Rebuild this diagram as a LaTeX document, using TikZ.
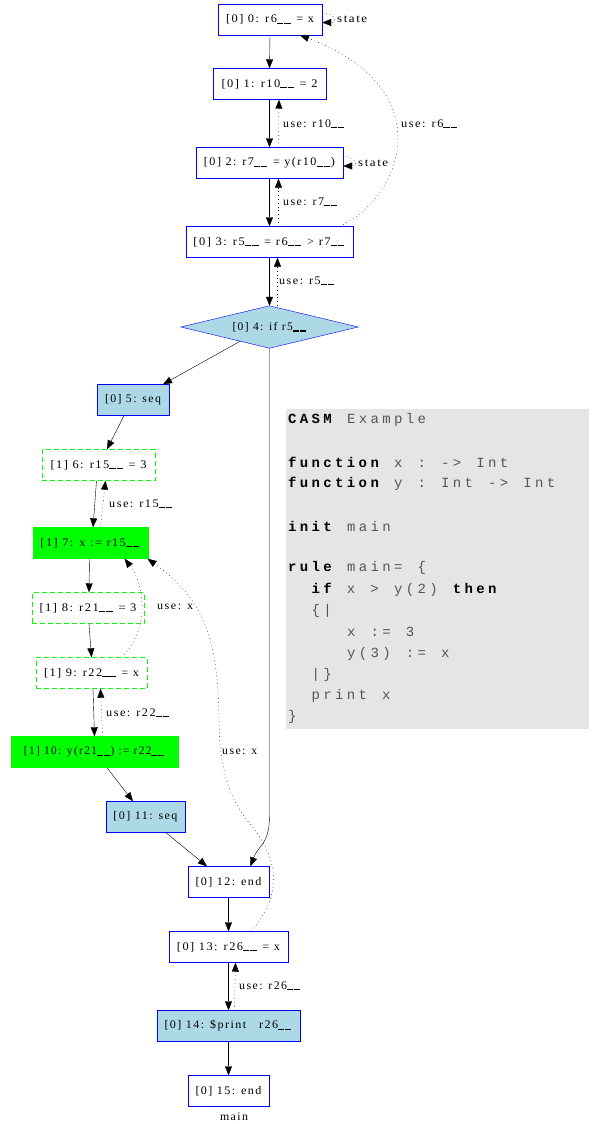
\documentclass[tikz,border=0pt]{standalone}
\usepackage{fontspec}
\usepackage{graphicx}
\setmainfont{Liberation Serif}[LetterSpace=12]
\newfontfamily\codefont{Liberation Mono}[LetterSpace=24]
\usetikzlibrary{arrows.meta,calc}
\definecolor{gvblue}{HTML}{0000FF}
\definecolor{gvlightblue}{HTML}{ADD8E6}
\definecolor{gvgreen}{HTML}{00FF00}
\definecolor{codebg}{HTML}{E5E5E5}
\definecolor{codegray}{HTML}{555555}
\newcommand{\us}{\rule[-1.2pt]{6pt}{1.3pt}\hspace{0.8pt}\rule[-1.2pt]{6pt}{1.3pt}\hspace{1pt}}
\newcommand{\csp}{\hspace*{15.12pt}}
\newcommand{\kw}[1]{{\bfseries\color{black}#1}}
\newcommand{\fitw}[2]{\resizebox{#1pt}{\height}{#2}}
\begin{document}
\begin{tikzpicture}[x=1pt,y=-1pt,
  box/.style={draw=gvblue, rectangle, minimum height=31pt, inner sep=0pt, font=\fontsize{11.6}{13}\selectfont},
  seqbox/.style={box, fill=gvlightblue},
  updbox/.style={box, draw=gvgreen, fill=gvgreen},
  dbox/.style={box, draw=gvgreen, dash pattern=on 5pt off 3pt},
  flow/.style={draw=black, -{Triangle[length=9pt,width=7pt]}},
  use/.style={draw=black, dash pattern=on 0.8pt off 3pt, -{Triangle[length=9pt,width=7pt]}},
  lbl/.style={anchor=west, inner sep=0pt, font=\fontsize{11.6}{13}\selectfont},
  codeline/.style={anchor=west, inner sep=0pt, font=\codefont\fontsize{14}{16}\selectfont, text=codegray}
]
\useasboundingbox (0,0) rectangle (594,1124);

% code panel
\fill[codebg] (286,409) rectangle (589,729);
\node[codeline] (c1) at (288,420) {\kw{CASM}\csp Example};
\node[codeline] (c2) at (288,462) {\kw{function}\csp x\csp :\csp ->\csp Int};
\node[codeline] (c3) at (288,484) {\kw{function}\csp y\csp :\csp Int\csp ->\csp Int};
\node[codeline] (c4) at (288,526) {\kw{init}\csp main};
\node[codeline] (c5) at (288,568) {\kw{rule}\csp main=\csp \{};
\node[codeline] (c6) at (311.5,590) {\kw{if}\csp x\csp >\csp y(2)\csp \kw{then}};
\node[codeline] (c7) at (311.5,611) {\{|};
\node[codeline] (c8) at (346.8,632) {x\csp :=\csp 3};
\node[codeline] (c9) at (346.8,654) {y(3)\csp :=\csp x};
\node[codeline] (c10) at (311.5,675) {|\}};
\node[codeline] (c11) at (311.5,696) {print\csp x};
\node[codeline] (c12) at (288,717) {\}};

% nodes
\node[box, minimum width=104pt] (n0) at (270,19.5) {\fitw{88}{[0] 0: r6\us{} = x}};
\node[box, minimum width=113pt] (n1) at (269.5,84) {\fitw{96}{[0] 1: r10\us{} = 2}};
\node[box, minimum width=147pt] (n2) at (269.5,163) {\fitw{131}{[0] 2: r7\us{} = y(r10\us)}};
\node[box, minimum width=167pt] (n3) at (269.5,242) {\fitw{152}{[0] 3: r5\us{} = r6\us{} > r7\us}};
\node[inner sep=0pt, minimum width=177pt, minimum height=42pt] (n4) at (269.5,327) {};
\filldraw[draw=gvblue, fill=gvlightblue] (n4.north) -- (n4.east) -- (n4.south) -- (n4.west) -- cycle;
\node[inner sep=0pt, font=\fontsize{11.6}{13}\selectfont] (n4t) at (n4.center) {\fitw{74}{[0] 4: if r5\us}};
\node[seqbox, minimum width=72pt] (n5) at (133,400) {\fitw{56}{[0] 5: seq}};
\node[dbox, minimum width=113pt] (n6) at (98.5,465) {\fitw{96}{[1] 6: r15\us{} = 3}};
\node[updbox, minimum width=115pt] (n7) at (90.5,543) {\fitw{100}{[1] 7: x := r15\us}};
\node[dbox, minimum width=112pt] (n8) at (88,608) {\fitw{97}{[1] 8: r21\us{} = 3}};
\node[dbox, minimum width=111pt] (n9) at (91.5,673) {\fitw{95}{[1] 9: r22\us{} = x}};
\node[updbox, minimum width=167pt] (n10) at (94.5,752) {\fitw{141}{[1] 10: y(r21\us) := r22\us}};
\node[seqbox, minimum width=79pt] (n11) at (145.5,817) {\fitw{64}{[0] 11: seq}};
\node[box, minimum width=81pt] (n12) at (228.5,882) {\fitw{66}{[0] 12: end}};
\node[box, minimum width=119pt] (n13) at (228.5,947) {\fitw{103}{[0] 13: r26\us{} = x}};
\node[seqbox, minimum width=143pt] (n14) at (228.5,1026) {\fitw{128}{[0] 14: \$print\hspace{8pt} r26\us}};
\node[box, minimum width=81pt] (n15) at (228.5,1091) {\fitw{66}{[0] 15: end}};
\node[inner sep=0pt, font=\fontsize{11.6}{13}\selectfont] (mainlbl) at (234,1117) {\fitw{28}{main}};

% control flow
\draw[flow] (n0.south) -- (n1.north);
\draw[flow] (n1.south) -- (n2.north);
\draw[flow] (n2.south) -- (n3.north);
\draw[flow] (n3.south) -- (n4.north);
\draw[flow] ($(n4.west)!0.67!(n4.south)$) -- ([xshift=30pt]n5.north);
\draw[flow] (n4.south) -- ++(0,467) .. controls +(0,30) and +(8,-22) .. ([xshift=22pt]n12.north);
\draw[flow] ([xshift=-9pt]n5.south) -- ([xshift=8.5pt]n6.north);
\draw[flow] ([xshift=-2pt]n6.south) -- ([xshift=2.5pt]n7.north);
\draw[flow] ([xshift=-1pt]n7.south) -- ([xshift=1pt]n8.north);
\draw[flow] ([xshift=1pt]n8.south) -- (n9.north);
\draw[flow] ([xshift=1.5pt]n9.south) -- (n10.north);
\draw[flow] ([xshift=12.5pt]n10.south) -- ([xshift=-12.5pt]n11.north);
\draw[flow] ([xshift=20.5pt]n11.south) -- ([xshift=-21.5pt]n12.north);
\draw[flow] (n12.south) -- (n13.north);
\draw[flow] (n13.south) -- (n14.north);
\draw[flow] (n14.south) -- (n15.north);

% use / state edges
\draw[use] ([yshift=7pt]n0.east) .. controls +(14,2) and +(16,0) .. ([yshift=-3pt]n0.east);
\node[lbl] (s0) at (337,19) {\fitw{30}{state}};
\draw[use] ([yshift=7pt]n2.east) .. controls +(14,2) and +(16,0) .. ([yshift=-3pt]n2.east);
\node[lbl] (s2) at (358,163) {\fitw{30}{state}};
\draw[use] ([xshift=9pt]n2.north) -- ([xshift=9.5pt]n1.south);
\node[lbl] (u1) at (283,124) {\fitw{62}{use: r10\us}};
\draw[use] ([xshift=9pt]n3.north) -- ([xshift=9pt]n2.south);
\node[lbl] (u2) at (283,202) {\fitw{55}{use: r7\us}};
\draw[use] ([xshift=8pt]n4.north) -- ([xshift=8pt]n3.south);
\node[lbl] (u3) at (279,281) {\fitw{56}{use: r5\us}};
\draw[use] ([xshift=70pt]n3.north) .. controls (400,200) and (445,90) .. ([xshift=30pt]n0.south);
\node[lbl] (u0) at (401,124) {\fitw{57}{use: r6\us}};
\draw[use] ([xshift=10pt]n7.north) -- ([xshift=7pt]n6.south);
\node[lbl] (u6) at (109,504) {\fitw{64}{use: r15\us}};
\draw[use] ([xshift=30pt]n9.north) .. controls (150,630) and (145,585) .. ([xshift=34pt]n7.south);
\node[lbl] (u7a) at (157,607) {\fitw{36}{use: x}};
\draw[use] ([xshift=23pt]n13.north) .. controls (282,895) and (280,860) .. (250,824)
   .. controls (224,792) and (220,760) .. (219,720)
   .. controls (218,640) and (205,600) .. ([xshift=57pt]n7.south);
\node[lbl] (u7b) at (222,752) {\fitw{35}{use: x}};
\draw[use] ([xshift=8pt]n10.north) -- ([xshift=9pt]n9.south);
\node[lbl] (u9) at (106,713) {\fitw{64}{use: r22\us}};
\draw[use] ([xshift=6pt]n14.north) -- ([xshift=7pt]n13.south);
\node[lbl] (u13) at (239,986) {\fitw{62}{use: r26\us}};
\end{tikzpicture}
\end{document}
